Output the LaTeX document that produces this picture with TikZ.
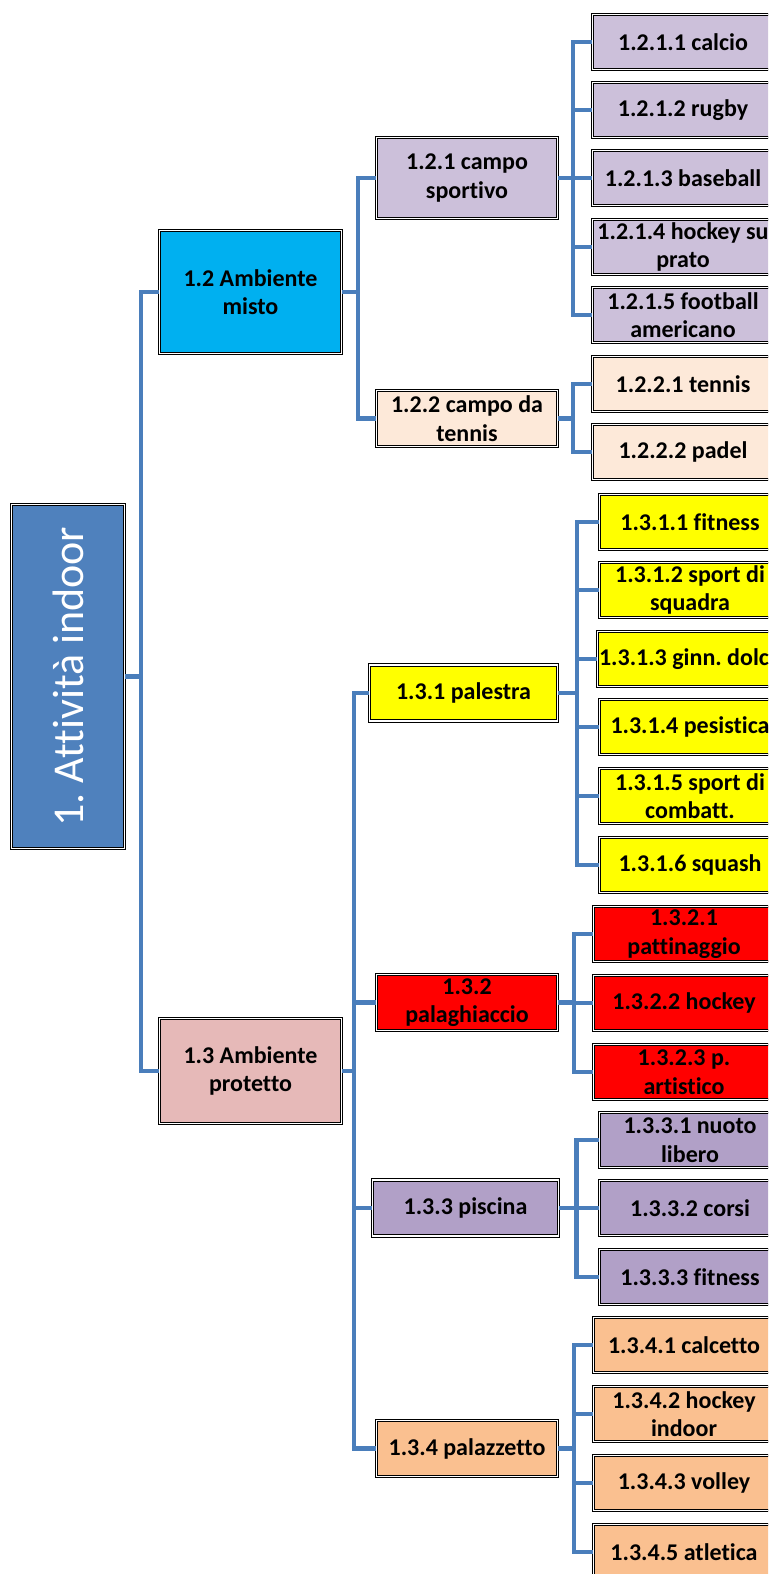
\documentclass[tikz,border=0pt]{standalone}
\usepackage{fontspec}
\setmainfont[Ligatures=NoCommon]{Carlito}
\frenchspacing

\definecolor{rootblue}{HTML}{4F81BD}
\definecolor{linkblue}{HTML}{4A7EBB}
\definecolor{mistocyan}{HTML}{00B0F0}
\definecolor{protettopink}{HTML}{E6B9B8}
\definecolor{campolilac}{HTML}{CCC0DA}
\definecolor{tennispeach}{HTML}{FDE9D9}
\definecolor{palestrayellow}{HTML}{FFFF00}
\definecolor{ghiacciored}{HTML}{FF0000}
\definecolor{piscinaviolet}{HTML}{B1A0C7}
\definecolor{palazzettoorange}{HTML}{FAC090}

\begin{document}
\begin{tikzpicture}[x=0.75pt,y=-0.75pt,
  box/.style={draw=black,double=white,double distance=1pt,line width=0.85pt,
    align=center,inner sep=1pt,font=\fontsize{18}{21.5}\selectfont\bfseries},
  mid/.style={box,minimum width=136pt,minimum height=42pt},
  leaf/.style={box,minimum width=136pt,minimum height=41.5pt},
  link/.style={draw=linkblue,line width=3.3pt}]
\path[use as bounding box,clip] (0,0) rectangle (768,1574);

\node[box,fill=rootblue,text=white,minimum width=85pt,minimum height=258pt,
  font=\fontsize{33}{40}\selectfont] (root) at (68,676.5) {\rotatebox{90}{1. Attività indoor}};

\node[box,fill=mistocyan,minimum width=136.5pt,minimum height=92.5pt] (n12) at (250.5,292) {1.2 Ambiente\\misto};
\node[box,fill=protettopink,minimum width=136.5pt,minimum height=79pt] (n13) at (250.5,1071) {1.3 Ambiente\\protetto};

\node[mid,fill=campolilac,minimum height=61pt] (n121) at (467,178) {1.2.1 campo\\sportivo};
\node[mid,fill=tennispeach] (n122) at (467,418.5) {1.2.2 campo da\\tennis};
\node[mid,fill=palestrayellow,minimum width=141pt] (n131) at (463.5,693) {1.3.1 palestra};
\node[mid,fill=ghiacciored] (n132) at (467,1002.5) {1.3.2\\palaghiaccio};
\node[mid,fill=piscinaviolet,minimum width=139.5pt] (n133) at (465.5,1208) {1.3.3 piscina};
\node[mid,fill=palazzettoorange] (n134) at (467,1448.5) {1.3.4 palazzetto};

% campo sportivo
\node[leaf,fill=campolilac] (n1211) at (683,42) {1.2.1.1 calcio};
\node[leaf,fill=campolilac] (n1212) at (683,110) {1.2.1.2 rugby};
\node[leaf,fill=campolilac] (n1213) at (683,178) {1.2.1.3 baseball};
\node[leaf,fill=campolilac] (n1214) at (683,247) {1.2.1.4 hockey su\\prato};
\node[leaf,fill=campolilac] (n1215) at (683,315) {1.2.1.5 football\\americano};
% campo da tennis
\node[leaf,fill=tennispeach] (n1221) at (683,384) {1.2.2.1 tennis};
\node[leaf,fill=tennispeach] (n1222) at (683,452) {1.2.2.2 padel};
% palestra
\node[leaf,fill=palestrayellow] (n1311) at (690,522) {1.3.1.1 fitness};
\node[leaf,fill=palestrayellow] (n1312) at (690,590) {1.3.1.2 sport di\\squadra};
\node[leaf,fill=palestrayellow] (n1313) at (690,659) {1.3.1.3 ginn. dolce};
\node[leaf,fill=palestrayellow] (n1314) at (690,727) {1.3.1.4 pesistica};
\node[leaf,fill=palestrayellow] (n1315) at (690,796) {1.3.1.5 sport di\\combatt.};
\node[leaf,fill=palestrayellow] (n1316) at (690,865) {1.3.1.6 squash};
% palaghiaccio
\node[leaf,fill=ghiacciored] (n1321) at (684,934) {1.3.2.1\\pattinaggio};
\node[leaf,fill=ghiacciored] (n1322) at (684,1003) {1.3.2.2 hockey};
\node[leaf,fill=ghiacciored] (n1323) at (684,1072) {1.3.2.3 p.\\artistico};
% piscina
\node[leaf,fill=piscinaviolet] (n1331) at (690,1140) {1.3.3.1 nuoto\\libero};
\node[leaf,fill=piscinaviolet] (n1332) at (690,1208) {1.3.3.2 corsi};
\node[leaf,fill=piscinaviolet] (n1333) at (690,1277) {1.3.3.3 fitness};
% palazzetto
\node[leaf,fill=palazzettoorange] (n1341) at (684,1345) {1.3.4.1 calcetto};
\node[leaf,fill=palazzettoorange] (n1342) at (684,1414) {1.3.4.2 hockey\\indoor};
\node[leaf,fill=palazzettoorange] (n1343) at (684,1483) {1.3.4.3 volley};
\node[leaf,fill=palazzettoorange] (n1345) at (684,1552) {1.3.4.5 atletica};

% connectors
\draw[link] (root.east) -- ++(12pt,0) |- (n12.west);
\draw[link] (root.east) -- ++(12pt,0) |- (n13.west);

\draw[link] (n12.east) -- ++(12pt,0) |- (n121.west);
\draw[link] (n12.east) -- ++(12pt,0) |- (n122.west);

\draw[link] (n13.east) -- ++(9pt,0) |- (n131.west);
\draw[link] (n13.east) -- ++(9pt,0) |- (n132.west);
\draw[link] (n13.east) -- ++(9pt,0) |- (n133.west);
\draw[link] (n13.east) -- ++(9pt,0) |- (n134.west);

\draw[link] (n121.east) -- ++(11pt,0) |- (n1211.west);
\draw[link] (n121.east) -- ++(11pt,0) |- (n1212.west);
\draw[link] (n121.east) -- ++(11pt,0) |- (n1213.west);
\draw[link] (n121.east) -- ++(11pt,0) |- (n1214.west);
\draw[link] (n121.east) -- ++(11pt,0) |- (n1215.west);

\draw[link] (n122.east) -- ++(11pt,0) |- (n1221.west);
\draw[link] (n122.east) -- ++(11pt,0) |- (n1222.west);

\draw[link] (n131.east) -- ++(14pt,0) |- (n1311.west);
\draw[link] (n131.east) -- ++(14pt,0) |- (n1312.west);
\draw[link] (n131.east) -- ++(14pt,0) |- (n1313.west);
\draw[link] (n131.east) -- ++(14pt,0) |- (n1314.west);
\draw[link] (n131.east) -- ++(14pt,0) |- (n1315.west);
\draw[link] (n131.east) -- ++(14pt,0) |- (n1316.west);

\draw[link] (n132.east) -- ++(12pt,0) |- (n1321.west);
\draw[link] (n132.east) -- ++(12pt,0) |- (n1322.west);
\draw[link] (n132.east) -- ++(12pt,0) |- (n1323.west);

\draw[link] (n133.east) -- ++(13pt,0) |- (n1331.west);
\draw[link] (n133.east) -- ++(13pt,0) |- (n1332.west);
\draw[link] (n133.east) -- ++(13pt,0) |- (n1333.west);

\draw[link] (n134.east) -- ++(12pt,0) |- (n1341.west);
\draw[link] (n134.east) -- ++(12pt,0) |- (n1342.west);
\draw[link] (n134.east) -- ++(12pt,0) |- (n1343.west);
\draw[link] (n134.east) -- ++(12pt,0) |- (n1345.west);
\end{tikzpicture}
\end{document}
